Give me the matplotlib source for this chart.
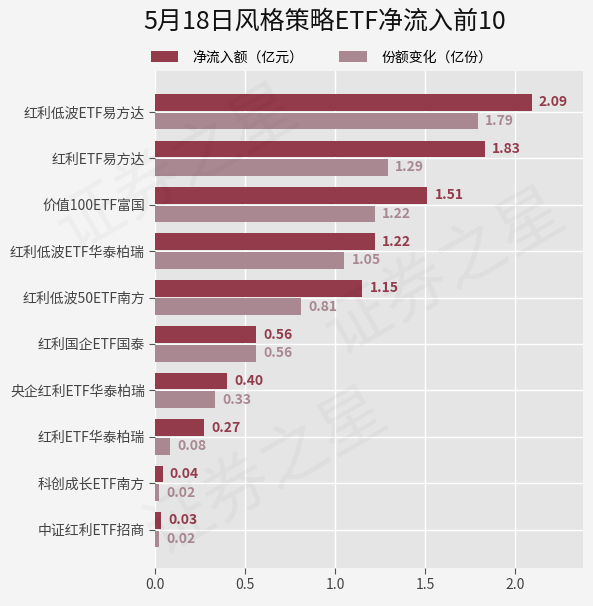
import matplotlib
matplotlib.use("Agg")
import matplotlib.pyplot as plt
import numpy as np

plt.rcParams['font.family'] = ['Noto Sans CJK SC', 'DejaVu Sans']

categories = ["红利低波ETF易方达", "红利ETF易方达", "价值100ETF富国", "红利低波ETF华泰柏瑞",
              "红利低波50ETF南方", "红利国企ETF国泰", "央企红利ETF华泰柏瑞", "红利ETF华泰柏瑞",
              "科创成长ETF南方", "中证红利ETF招商"]
net_inflow = [2.09, 1.83, 1.51, 1.22, 1.15, 0.56, 0.40, 0.27, 0.04, 0.03]
share_change = [1.79, 1.29, 1.22, 1.05, 0.81, 0.56, 0.33, 0.08, 0.02, 0.02]
series_names = ["净流入额（亿元）", "份额变化（亿份）"]
title = "5月18日风格策略ETF净流入前10"

c1 = "#933a4b"
c2 = "#a98891"

fig = plt.figure(figsize=(5.93, 6.06), dpi=100)
fig.patch.set_facecolor("#f4f4f4")
ax = fig.add_axes([0.262, 0.063, 0.721, 0.820])
ax.set_facecolor("#e5e5e5")

y = np.arange(len(categories))
h = 0.36
off = 0.2
b1 = ax.barh(y - off, net_inflow, height=h, color=c1, label=series_names[0], zorder=3)
b2 = ax.barh(y + off, share_change, height=h, color=c2, label=series_names[1], zorder=3)

for yi, v in zip(y, net_inflow):
    ax.text(v + 0.04, yi - off, f"{v:.2f}", va="center", ha="left", color=c1,
            fontsize=10, fontweight="bold", zorder=4)
for yi, v in zip(y, share_change):
    ax.text(v + 0.04, yi + off, f"{v:.2f}", va="center", ha="left", color=c2,
            fontsize=10, fontweight="bold", zorder=4)

ax.set_yticks(y)
ax.set_yticklabels(categories, fontsize=10, color="#444444")
ax.set_ylim(9.82, -0.88)
ax.set_xlim(0, 2.375)
ax.set_xticks([0, 0.5, 1.0, 1.5, 2.0])
ax.set_xticklabels(["0.0", "0.5", "1.0", "1.5", "2.0"], fontsize=10, color="#444444")
ax.grid(True, color="white", linewidth=1.0, zorder=0)
ax.set_axisbelow(True)
for s in ax.spines.values():
    s.set_visible(False)
ax.tick_params(axis="both", length=4, color="#555555", width=0.8)

fig.text(0.548, 0.964, title, ha="center", va="center", fontsize=18, color="#111111")
fig.legend(handles=[b1, b2], labels=series_names, loc="center", bbox_to_anchor=(0.542, 0.905),
           ncol=2, frameon=False, fontsize=10, handlelength=2.0, handleheight=0.8,
           columnspacing=2.6, handletextpad=1.0)

# faint watermark (kept inside the figure)
for (xx, yy) in [(0.30, 0.72), (0.75, 0.55), (0.45, 0.22)]:
    fig.text(xx, yy, "证券之星", fontsize=48, color="#000000", alpha=0.03, rotation=30,
             ha="center", va="center", zorder=10)

fig.savefig("out.png", dpi=100, facecolor=fig.get_facecolor())
